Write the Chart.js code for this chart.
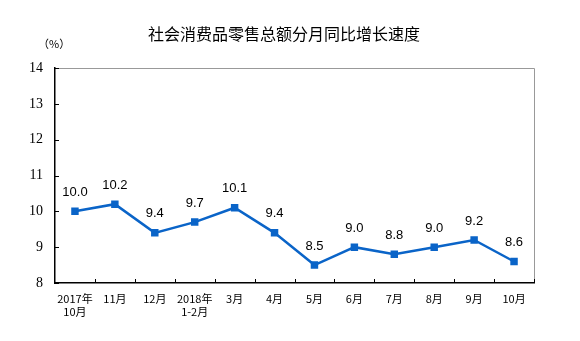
<!DOCTYPE html>
<html>
<head>
<meta charset="utf-8">
<script src="https://cdn.jsdelivr.net/npm/chart.js@4/dist/chart.umd.min.js"></script>
<style>
  body { margin: 0; background: #fff; }
  #wrap { width: 580px; height: 341px; }
</style>
</head>
<body>
<div id="wrap"><canvas id="lineChart"></canvas></div>
<script>
const chartTitle = "社会消费品零售总额分月同比增长速度";
const months = [["2017年", "10月"], "11月", "12月", ["2018年", "1-2月"], "3月", "4月", "5月", "6月", "7月", "8月", "9月", "10月"];
const growth = [10.0, 10.2, 9.4, 9.7, 10.1, 9.4, 8.5, 9.0, 8.8, 9.0, 9.2, 8.6];
const yTicks = [8, 9, 10, 11, 12, 13, 14];

// title, value labels, inward tick marks, frame, unit
const extras = {
    id: "extras",
    afterDraw(chart) {
        const ctx = chart.ctx;
        const a = chart.chartArea;
        const x = chart.scales.x, y = chart.scales.y;
        ctx.save();
        // top / right frame in gray
        ctx.strokeStyle = "#999";
        ctx.lineWidth = 1;
        ctx.beginPath();
        ctx.moveTo(a.left, a.top + 0.5);
        ctx.lineTo(a.right + 0.5, a.top + 0.5);
        ctx.lineTo(a.right + 0.5, a.bottom);
        ctx.stroke();
        // tick marks pointing inward
        ctx.strokeStyle = "#000";
        ctx.beginPath();
        yTicks.forEach(v => {
            const py = Math.round(y.getPixelForValue(v)) + 0.5;
            ctx.moveTo(a.left, py);
            ctx.lineTo(a.left + 4, py);
        });
        for (let i = 1; i <= months.length; i++) {
            const px = Math.round((x.getPixelForValue(i - 1) + x.getPixelForValue(i)) / 2) + 0.5;
            const xx = i === months.length ? a.right + 0.5 : px;
            ctx.moveTo(xx, a.bottom);
            ctx.lineTo(xx, a.bottom - 4);
        }
        ctx.stroke();
        // value labels
        ctx.fillStyle = "#000";
        ctx.font = "13px 'Liberation Sans', Arial";
        ctx.textAlign = "center";
        ctx.textBaseline = "middle";
        chart.getDatasetMeta(0).data.forEach((p, i) => {
            ctx.fillText(growth[i].toFixed(1), p.x, p.y - 19);
        });
        // title
        ctx.font = "16px 'Noto Sans CJK SC'";
        ctx.fillText(chartTitle, 284, 34);
        // unit
        ctx.font = "11px 'Noto Sans CJK SC'";
        ctx.textAlign = "left";
        ctx.fillText("（%）", 38, 44);
        ctx.restore();
    }
};

new Chart(document.getElementById("lineChart"), {
    type: "line",
    data: {
        labels: months,
        datasets: [{
            label: chartTitle,
            data: growth,
            borderColor: "#0a64c8",
            backgroundColor: "#0a64c8",
            borderWidth: 2.5,
            pointStyle: "rect",
            pointRadius: 3.5,
            pointHoverRadius: 3.5,
            tension: 0,
            fill: false
        }]
    },
    options: {
        responsive: true,
        maintainAspectRatio: false,
        animation: false,
        layout: { padding: { left: 0, right: 46, top: 68, bottom: 0 } },
        plugins: {
            legend: { display: false },
            tooltip: { enabled: false },
            title: { display: false }
        },
        scales: {
            x: {
                offset: true,
                grid: { display: false, drawTicks: false },
                border: { display: true, color: "#000", width: 1.5 },
                ticks: {
                    color: "#000",
                    font: { family: "'Noto Sans CJK SC'", size: 11 },
                    padding: 9,
                    maxRotation: 0,
                    autoSkip: false
                },
                afterFit: s => { s.height = 58; }
            },
            y: {
                min: 8,
                max: 14,
                afterBuildTicks: s => { s.ticks = yTicks.map(v => ({ value: v })); },
                grid: { display: false, drawTicks: false },
                border: { display: true, color: "#000", width: 1.5 },
                ticks: {
                    color: "#000",
                    font: { family: "'Liberation Serif'", size: 14 },
                    padding: 12
                },
                afterFit: s => { s.width = 55; }
            }
        }
    },
    plugins: [extras]
});
</script>
</body>
</html>
